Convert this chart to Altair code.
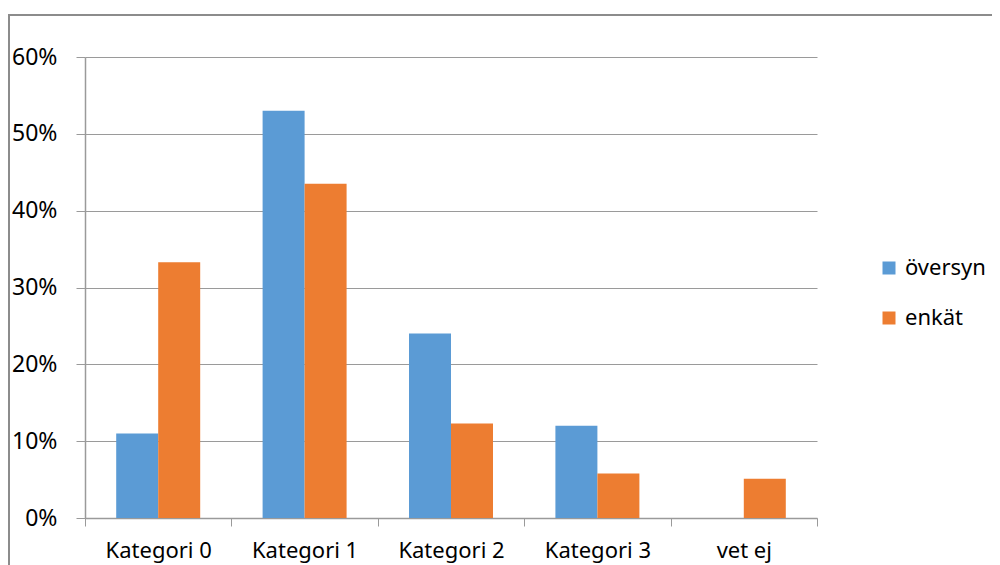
import altair as alt
import pandas as pd

categories = ["Kategori 0", "Kategori 1", "Kategori 2", "Kategori 3", "vet ej"]
series = ["översyn", "enkät"]
oversyn = [0.11, 0.53, 0.24, 0.12, 0.0]
enkat = [0.333, 0.435, 0.123, 0.058, 0.051]
colors = ["#5B9BD5", "#ED7D31"]

rows = []
for c, a, b in zip(categories, oversyn, enkat):
    rows.append({"kategori": c, "serie": series[0], "värde": a})
    rows.append({"kategori": c, "serie": series[1], "värde": b})
df = pd.DataFrame(rows)

FONT = "Noto Sans"
FS = 23
GRAY = "#9a9a9a"

bars = alt.Chart(df).mark_bar().encode(
    x=alt.X("kategori:N", sort=categories, title=None,
            scale=alt.Scale(paddingInner=0, paddingOuter=0),
            axis=alt.Axis(labelAngle=0, labelFontSize=22, labelFont=FONT, labelColor="#000",
                          labelPadding=14, tickSize=8, tickColor=GRAY, domainColor=GRAY,
                          tickBand="extent", grid=False)),
    xOffset=alt.XOffset("serie:N", sort=series,
                        scale=alt.Scale(paddingInner=0, paddingOuter=0.743)),
    y=alt.Y("värde:Q", title=None,
            scale=alt.Scale(domain=[0, 0.6], nice=False),
            axis=alt.Axis(format=".0%", values=[0, 0.1, 0.2, 0.3, 0.4, 0.5, 0.6],
                          labelFontSize=FS, labelFont=FONT, labelColor="#000",
                          labelPadding=19, tickSize=9, tickColor=GRAY, domainColor=GRAY,
                          gridColor=GRAY, grid=True)),
    color=alt.Color("serie:N", sort=series,
                    scale=alt.Scale(domain=series, range=colors),
                    legend=alt.Legend(title=None, orient="none", legendX=793, legendY=200,
                                      symbolType="square", symbolSize=169, symbolStrokeWidth=0,
                                      labelFontSize=22, labelFont=FONT, labelColor="#000",
                                      rowPadding=28, labelOffset=5)),
)

frame = alt.Chart(df).mark_rect(filled=False, stroke="#8c8c8c", strokeWidth=1.5).encode(
    x=alt.value(-76), y=alt.value(-42), x2=alt.value(1200), y2=alt.value(800)
)

chart = alt.layer(frame, bars).properties(
    width=732, height=461,
    padding={"left": 77, "top": 49, "right": 175, "bottom": 47},
    autosize=alt.AutoSizeParams(type="none"),
).configure_view(stroke=None).configure_axis(domainWidth=1.5)

chart.save("out.html", embed_options={"renderer": "svg", "actions": False})
